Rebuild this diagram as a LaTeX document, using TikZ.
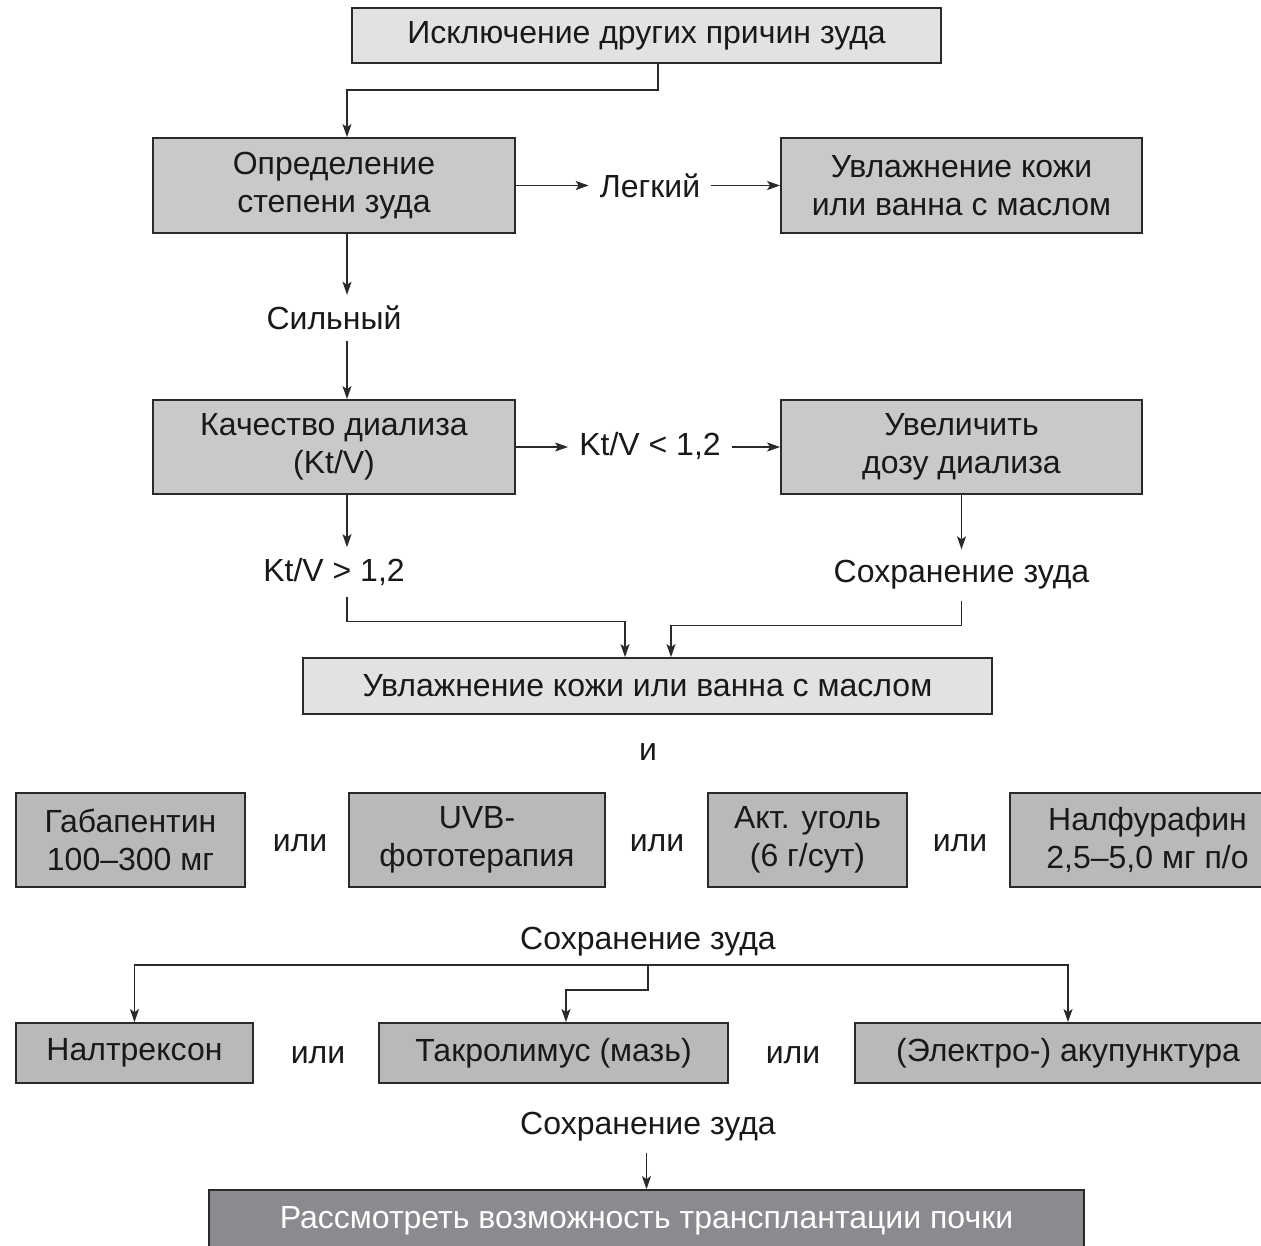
\documentclass[tikz,border=0pt]{standalone}
\usepackage{fontspec}
\setmainfont{Liberation Sans}
\usetikzlibrary{arrows.meta}
\definecolor{lightfill}{HTML}{E2E2E4}
\definecolor{midfill}{HTML}{C9C9CB}
\definecolor{rowfill}{HTML}{B9B9BB}
\definecolor{darkfill}{HTML}{8B8B8F}
\definecolor{edge}{HTML}{2A2A2A}
\tikzset{
  basebox/.style={draw=edge, line width=1.8pt, align=center, inner sep=0pt,
    font=\fontsize{32}{38}\selectfont, text=black!90},
  lightbox/.style={basebox, fill=lightfill},
  midbox/.style={basebox, fill=midfill},
  rowbox/.style={basebox, fill=rowfill},
  darkbox/.style={basebox, fill=darkfill, text=white},
  lbl/.style={inner sep=11pt, font=\fontsize{32}{38}\selectfont, text=black!90},
  arr/.style={draw=edge, line width=1.3pt, -{Stealth[length=13pt,width=9pt,inset=3pt]}},
  ln/.style={draw=edge, line width=1.3pt}
}
\begin{document}
\begin{tikzpicture}[x=1pt,y=-1pt]
\clip (0,0) rectangle (1261,1245);
\fill[white] (0,0) rectangle (1261,1245);
% boxes
\node[lightbox, minimum width=589pt, minimum height=55pt] (top) at (646.5,35.5) {Исключение других причин зуда};
\node[midbox, minimum width=362pt, minimum height=95pt] (b2) at (334,185.5) {Определение\\степени зуда};
\node[midbox, minimum width=361pt, minimum height=95pt] (b3) at (961.5,185.5) {Увлажнение кожи\\или ванна с маслом};
\node[lbl] (legk) at (650,186) {Легкий};
\node[lbl] (silny) at (334,318) {Сильный};
\node[midbox, minimum width=362pt, minimum height=94pt] (b4) at (334,447) {Качество диализа\\(Kt/V)};
\node[midbox, minimum width=361pt, minimum height=94pt] (b5) at (961.5,447) {Увеличить\\дозу диализа};
\node[lbl] (klt) at (650,446) {Kt/V < 1,2};
\node[lbl] (kgt) at (334,572) {Kt/V > 1,2};
\node[lbl] (s1) at (961.5,575) {Сохранение зуда};
\node[lightbox, minimum width=689pt, minimum height=56pt] (b6) at (647.5,686) {Увлажнение кожи или ванна с маслом};
\node[lbl] (and) at (648,752) {и};
% row of four
\node[rowbox, minimum width=229pt, minimum height=94pt] (g1) at (130.5,840) {Габапентин\\100--300 мг};
\node[lbl] (or1) at (300,843) {или};
\node[rowbox, minimum width=256pt, minimum height=94pt] (g2) at (477,840) {UVB-\\фототерапия};
\node[lbl] (or2) at (657,843) {или};
\node[rowbox, minimum width=199pt, minimum height=94pt] (g3) at (807.5,840) {Акт. уголь\\(6 г/сут)};
\node[lbl] (or3) at (960,843) {или};
\node[rowbox, minimum width=275pt, minimum height=94pt] (g4) at (1147.5,840) {Налфурафин\\2,5--5,0 мг п/о};
\node[lbl] (s2) at (648,942) {Сохранение зуда};
% row of three
\node[rowbox, minimum width=237pt, minimum height=60pt] (h1) at (134.5,1053) {Налтрексон};
\node[lbl] (or4) at (318,1055) {или};
\node[rowbox, minimum width=349pt, minimum height=60pt] (h2) at (553.5,1053) {Такролимус (мазь)};
\node[lbl] (or5) at (793,1055) {или};
\node[rowbox, minimum width=426pt, minimum height=60pt] (h3) at (1068,1053) {(Электро-) акупунктура};
\node[lbl] (s3) at (648,1127) {Сохранение зуда};
\node[darkbox, minimum width=875pt, minimum height=62pt] (fin) at (646.5,1221) {Рассмотреть возможность трансплантации почки};
% connectors
\coordinate (k1) at (347,90);
\draw[arr] ([xshift=11.5pt]top.south) |- (k1) -- ([xshift=13pt]b2.north);
\draw[arr] (b2.east) -- (legk.west |- b2.east);
\draw[arr] (legk.east |- b3.west) -- (b3.west);
\draw[arr] ([xshift=13pt]b2.south) -- ([xshift=13pt]silny.north);
\draw[arr] ([xshift=13pt]silny.south) -- ([xshift=13pt]b4.north);
\draw[arr] (b4.east) -- (klt.west |- b4.east);
\draw[arr] (klt.east |- b5.west) -- (b5.west);
\draw[arr] ([xshift=13pt]b4.south) -- ([xshift=13pt]kgt.north);
\draw[arr] (b5.south) -- (b5.south |- s1.north);
\draw[arr] ([xshift=13pt]kgt.south) -- ++(0,25) -| ([xshift=-22.5pt]b6.north);
\draw[arr] (b5.south |- s1.south) -- ++(0,25) -| ([xshift=23.5pt]b6.north);
\coordinate (j) at (648,965);
\draw[arr] (j) -| (h1.north);
\draw[arr] (j) -| (h3.north);
\draw[arr] (j) -- ++(0,25) -| ([xshift=12.5pt]h2.north);
\draw[arr] (fin.north |- s3.south) -- (fin.north);
\end{tikzpicture}
\end{document}
